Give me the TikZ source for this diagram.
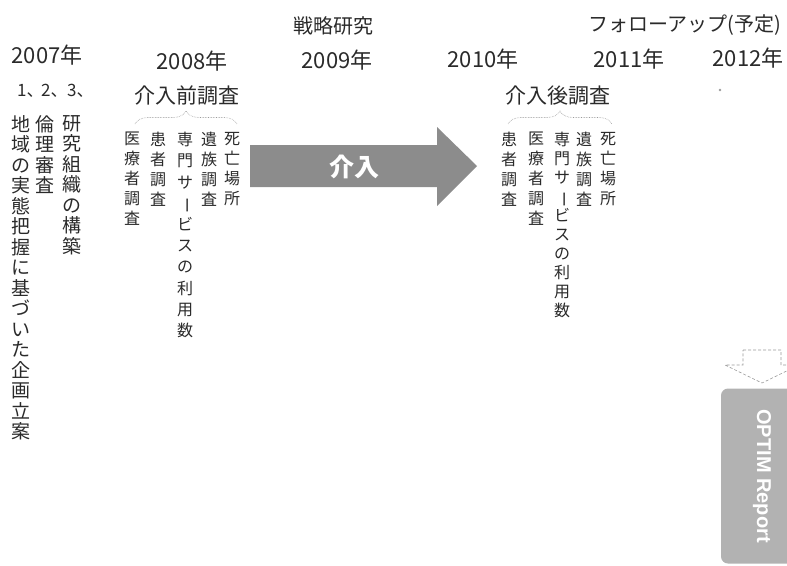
\documentclass[tikz,border=0pt]{standalone}
\usepackage{fontspec}
\usepackage{graphicx}
\setmainfont{Liberation Sans}
\newfontfamily\jp{Noto Sans CJK JP}
\usetikzlibrary{decorations.pathreplacing}
\newcommand{\vchoon}{\rotatebox[origin=c]{-90}{ー}}
\definecolor{ink}{HTML}{2A2A2A}
\definecolor{arrowgray}{HTML}{8C8C8C}
\definecolor{boxgray}{HTML}{B2B2B2}
\definecolor{dotgray}{HTML}{9A9A9A}
\begin{document}
\begin{tikzpicture}[x=1pt,y=-1pt,
  txt/.style={inner sep=0pt, text=ink, font=\jp},
  year/.style={txt, font=\jp\fontsize{22}{22}\selectfont},
  headtxt/.style={txt, font=\jp\fontsize{20}{20}\selectfont},
  survey/.style={txt, font=\jp\fontsize{21}{21}\selectfont},
  vcol/.style={txt, anchor=north, align=center, font=\jp\fontsize{16}{20}\selectfont},
  lcol/.style={txt, anchor=north, align=center, font=\jp\fontsize{19}{20.5}\selectfont},
  numtxt/.style={txt, anchor=west, font=\jp\fontsize{17}{17}\selectfont},
  bracebr/.style={decorate, decoration={brace, amplitude=13pt}, draw=dotgray, densely dotted, line width=0.6pt},
]
\useasboundingbox (0,0) rectangle (787,565);
\clip (0,0) rectangle (787,565);

% headers
\node[headtxt] (hstrat) at (333,26) {戦略研究};
\node[headtxt, font=\jp\fontsize{20}{20}\selectfont] (hfollow) at (685,25) {フォローアップ(予定)};

% years
\node[year] (y2007) at (47,55) {2007年};
\node[year] (y2008) at (192,61) {2008年};
\node[year] (y2009) at (337,60) {2009年};
\node[year] (y2010) at (483,59) {2010年};
\node[year] (y2011) at (629,59) {2011年};
\node[year] (y2012) at (748,58) {2012年};

% 2007 items
\node[numtxt] (n1) at (17,91) {1、};
\node[numtxt] (n2) at (41,91) {2、};
\node[numtxt] (n3) at (67,91) {3、};
\node[lcol] (c1) at (21,115) {地\\域\\の\\実\\態\\把\\握\\に\\基\\づ\\い\\た\\企\\画\\立\\案};
\node[lcol] (c2) at (45,115) {倫\\理\\審\\査};
\node[lcol] (c3) at (72,115) {研\\究\\組\\織\\の\\構\\築};

% pre-intervention survey
\node[survey] (pre) at (187,96) {介入前調査};
\coordinate (preL) at (135,124);
\coordinate (preR) at (237,124);
\draw[bracebr] (preL) -- (preR);
\node[vcol] (p1) at (232,132) {死\\亡\\場\\所};
\node[vcol] (p2) at (209,132) {遺\\族\\調\\査};
\node[vcol, font=\jp\fontsize{16}{21.2}\selectfont] (p3) at (185,132) {専\\門\\サ\\\vchoon\\ビ\\ス\\の\\利\\用\\数};
\node[vcol] (p4) at (158,132) {患\\者\\調\\査};
\node[vcol] (p5) at (132,132) {医\\療\\者\\調\\査};

% intervention arrow
\coordinate (aS) at (250,166);
\coordinate (aT) at (477,166);
\fill[arrowgray] (250,145) -- (437,145) -- (437,127) -- (aT) -- (437,206) -- (437,187) -- (250,187) -- cycle;
\node[txt, text=white, font=\jp\bfseries\fontsize{25}{25}\selectfont] (kainyu) at (354,167) {介入};

% post-intervention survey
\node[survey] (post) at (558,96) {介入後調査};
\coordinate (postL) at (508,124);
\coordinate (postR) at (612,124);
\draw[bracebr] (postL) -- (postR);
\node[vcol] (q1) at (608,132) {死\\亡\\場\\所};
\node[vcol] (q2) at (584,132) {遺\\族\\調\\査};
\node[vcol, font=\jp\fontsize{16}{19}\selectfont] (q3) at (562,132) {専\\門\\サ\\\vchoon\\ビ\\ス\\の\\利\\用\\数};
\node[vcol] (q4) at (536,132) {医\\療\\者\\調\\査};
\node[vcol] (q5) at (509,132) {患\\者\\調\\査};

% small dot
\fill[dotgray] (720,90) circle (1.3);

% down outline arrow
\draw[dotgray, densely dashed, line width=0.6pt]
  (743,350) -- (781,350) -- (781,365) -- (799,365) -- (762,383) -- (725,365) -- (743,365) -- cycle;

% OPTIM Report box
\node[rotate=-90, fill=boxgray, rounded corners=7pt, minimum width=175pt, minimum height=82pt,
      inner sep=0pt, text=white, font=\bfseries\fontsize{20}{20}\selectfont] (optim) at (762,476) {OPTIM Report};
\end{tikzpicture}
\end{document}
